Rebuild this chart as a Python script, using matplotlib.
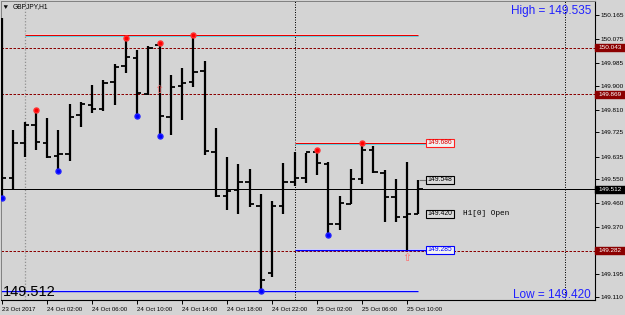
import matplotlib
matplotlib.use("Agg")
import matplotlib.pyplot as plt
from matplotlib.patches import Rectangle, Polygon

plt.rcParams['font.family'] = ['Liberation Sans', 'DejaVu Sans']

# GBPJPY H1 bars, 23 Oct 22:00 .. 25 Oct 11:00
opens = [149.772, 149.555, 149.686, 149.753, 149.686, 149.637, 149.644, 149.790,
         149.828, 149.813, 149.914, 149.974, 150.004, 149.869, 150.053, 149.783,
         149.899, 149.914, 149.955, 149.652, 149.487, 149.510, 149.540, 149.450,
         149.199, 149.450, 149.540, 149.555, 149.652, 149.607, 149.382, 149.457,
         149.551, 149.659, 149.573, 149.483, 149.408, 149.420]
highs = [150.154, 149.734, 149.764, 149.809, 149.779, 149.734, 149.832, 149.839,
         149.903, 149.922, 149.981, 150.080, 150.034, 150.049, 150.059, 149.940,
         149.967, 150.090, 149.993, 149.742, 149.633, 149.607, 149.588, 149.495,
         149.468, 149.611, 149.652, 149.648, 149.659, 149.614, 149.487, 149.588,
         149.686, 149.674, 149.585, 149.551, 149.614, 149.548]
lows = [149.480, 149.513, 149.633, 149.659, 149.629, 149.581, 149.618, 149.746,
        149.798, 149.806, 149.828, 149.948, 149.787, 149.865, 149.712, 149.716,
        149.772, 149.895, 149.641, 149.483, 149.435, 149.420, 149.446, 149.131,
        149.184, 149.420, 149.525, 149.536, 149.566, 149.341, 149.360, 149.457,
        149.532, 149.573, 149.390, 149.390, 149.285, 149.420]
closes = [149.555, 149.686, 149.753, 149.689, 149.633, 149.644, 149.783, 149.832,
          149.813, 149.910, 149.970, 150.008, 149.873, 150.041, 149.787, 149.895,
          149.910, 149.952, 149.656, 149.487, 149.506, 149.540, 149.457, 149.173,
          149.450, 149.540, 149.555, 149.652, 149.611, 149.382, 149.461, 149.551,
          149.659, 149.577, 149.483, 149.408, 149.420, 149.512]

up_fractals = [3, 11, 14, 17, 28, 32]
down_fractals = [0, 5, 12, 14, 23, 29]

ytick_vals = [150.165, 150.075, 149.985, 149.900, 149.810, 149.725, 149.635,
              149.550, 149.460, 149.370, 149.195, 149.110]
xtick_pos = [0, 4, 8, 12, 16, 20, 24, 28, 32, 36]
xtick_labels = ["23 Oct 2017", "24 Oct 02:00", "24 Oct 06:00", "24 Oct 10:00",
                "24 Oct 14:00", "24 Oct 18:00", "24 Oct 22:00", "25 Oct 02:00",
                "25 Oct 06:00", "25 Oct 10:00"]

dashed_levels = [150.043, 149.869, 149.282]
bid = 149.512
resist_hi = 150.090
resist_lo = 149.686
support_lo = 149.131
support_hi = 149.285

BG = '#d4d4d4'
DARKRED = '#8b0000'
PX = 1.0 / 267.0      # price per pixel
BW = 11.25            # pixels per bar


def fx(px):
    return px / 625.0


def fy(py):
    return 1 - py / 315.0


fig = plt.figure(figsize=(6.25, 3.15), dpi=100, facecolor=BG)
ax = fig.add_axes([fx(1), 15 / 315.0, 594 / 625.0, 299 / 315.0])
ax.set_facecolor(BG)
ax.set_xlim(-1 / BW, 593 / BW)
ax.set_ylim(150.165 - 285 * PX, 150.165 + 14 * PX)

for s in ['top', 'left']:
    ax.spines[s].set_color('#808080')
    ax.spines[s].set_linewidth(0.7)
for s in ['right', 'bottom']:
    ax.spines[s].set_color('black')
    ax.spines[s].set_linewidth(0.8)

# period separators
ax.axvline(2, color='#909090', lw=0.9, ls=(0, (1, 1.5)), zorder=1)
ax.axvline(26, color='black', lw=0.72, ls=(0, (1, 1.5)), zorder=1)
ax.axvline(50, color='black', lw=0.72, ls=(0, (1, 1.5)), zorder=1)

# dashed levels
for lv in dashed_levels:
    ax.axhline(lv, color=DARKRED, lw=0.72, ls=(0, (2.5, 1.5)), zorder=1)

ax.axhline(bid, color='black', lw=0.72, zorder=2)


def level(price, x0, x1, color, below=None):
    ax.hlines(price + PX, x0, x1, color='white', lw=0.72, zorder=2)
    ax.hlines(price, x0, x1, color=color, lw=1.0, zorder=2)
    if below:
        ax.hlines(price - PX, x0, x1, color=below, lw=0.72, zorder=2)


box_x0 = (426 - 2) / BW
box_x1 = (454 - 2) / BW
level(resist_hi, 2, 37, '#e00000', below='#60d0e0')
level(resist_lo, 26, box_x0, '#e00000', below='#60d0e0')
level(support_hi, 26, box_x0, '#0000ff')
level(support_lo, -1, 37, '#0000ff')

# OHLC bars
n = len(opens)
xs = list(range(n))
tk = 0.38
ax.vlines(xs, lows, highs, color='black', lw=1.6, zorder=4)
ax.hlines(opens, [x - tk for x in xs], xs, color='black', lw=1.3, zorder=4)
ax.hlines(closes, xs, [x + tk for x in xs], color='black', lw=1.3, zorder=4)

ax.plot(up_fractals, [highs[i] for i in up_fractals], 'o', color='#ff0000',
        ms=3.6, mec='#ff3030', zorder=5)
ax.plot(down_fractals, [lows[i] for i in down_fractals], 'o', color='#0000ff',
        ms=3.6, mec='#2020ff', zorder=5)

# up arrows
for ax_x, ax_y in [(35.97, 149.255), (13.9, 149.884)]:
    ax.text(ax_x, ax_y, "\u21e7", color='#ff6a6a', fontsize=8, ha='center',
            va='center', family=['DejaVu Sans'], zorder=6)

# price labels inside chart
def price_box(price, text, edge, fill, tcolor):
    ax.add_patch(Rectangle((box_x0, price - 3.8 * PX), box_x1 - box_x0, 7.6 * PX,
                           facecolor=fill, edgecolor=edge, lw=0.8, zorder=6))
    ax.text((box_x0 + box_x1) / 2, price, text, color=tcolor, fontsize=4.9,
            ha='center', va='center', zorder=7)


price_box(resist_lo, "149.686", '#ff2020', '#f2f2f2', '#e00000')
price_box(highs[-1], "149.548", 'black', '#dadada', 'black')
price_box(opens[-1], "149.420", 'black', '#dadada', 'black')
price_box(support_hi, "149.285", '#0000ff', '#f2f2f2', '#0000ff')
ax.hlines(highs[-1], 37.1, box_x0, color='#707070', lw=0.8, zorder=5)
ax.text((463 - 2) / BW, opens[-1], "H1[0] Open", fontsize=5.6, color='black',
        family=['Liberation Mono', 'DejaVu Sans Mono'], ha='left', va='center')

# axes ticks
ax.set_yticks(ytick_vals)
ax.set_yticklabels(["%.3f" % v for v in ytick_vals])
ax.yaxis.tick_right()
ax.tick_params(axis='y', length=3, width=0.7, pad=1.0, labelsize=4.6,
               colors='black')
ax.set_xticks(xtick_pos)
ax.set_xticklabels(xtick_labels)
ax.tick_params(axis='x', length=3, width=0.7, pad=2, labelsize=4.4,
               colors='black')
for lab in ax.get_xticklabels():
    lab.set_ha('left')

# axis price boxes
ytr = ax.get_yaxis_transform()
for lv, fc in [(150.043, DARKRED), (149.869, DARKRED), (149.282, DARKRED),
               (bid, 'black')]:
    ax.add_patch(Rectangle((1.0, lv - 3.5 * PX), 0.052, 7 * PX, transform=ytr,
                           facecolor=fc, edgecolor=fc, clip_on=False, zorder=8))
    ax.text(1.0055, lv, "%.3f" % lv, transform=ytr, color='white', fontsize=4.6,
            ha='left', va='center', clip_on=False, zorder=9)

# titles and annotations
fig.patches.append(Polygon([[fx(4), fy(5.5)], [fx(7.5), fy(5.5)], [fx(5.75), fy(8.5)]],
                           closed=True, transform=fig.transFigure,
                           facecolor='black', edgecolor='black', lw=0.3))
fig.text(fx(12.5), fy(7), "GBPJPY,H1", fontsize=4.8, color='black',
         ha='left', va='center')
fig.text(fx(3), fy(296.5), "149.512", fontsize=10.5, color='black',
         ha='left', va='baseline')
fig.text(fx(591), fy(14), "High = 149.535", fontsize=8.5, color='#2020ff',
         ha='right', va='baseline')
fig.text(fx(591), fy(298), "Low = 149.420", fontsize=8.5, color='#2020ff',
         ha='right', va='baseline')

fig.savefig("out.png", dpi=100, facecolor=BG)
